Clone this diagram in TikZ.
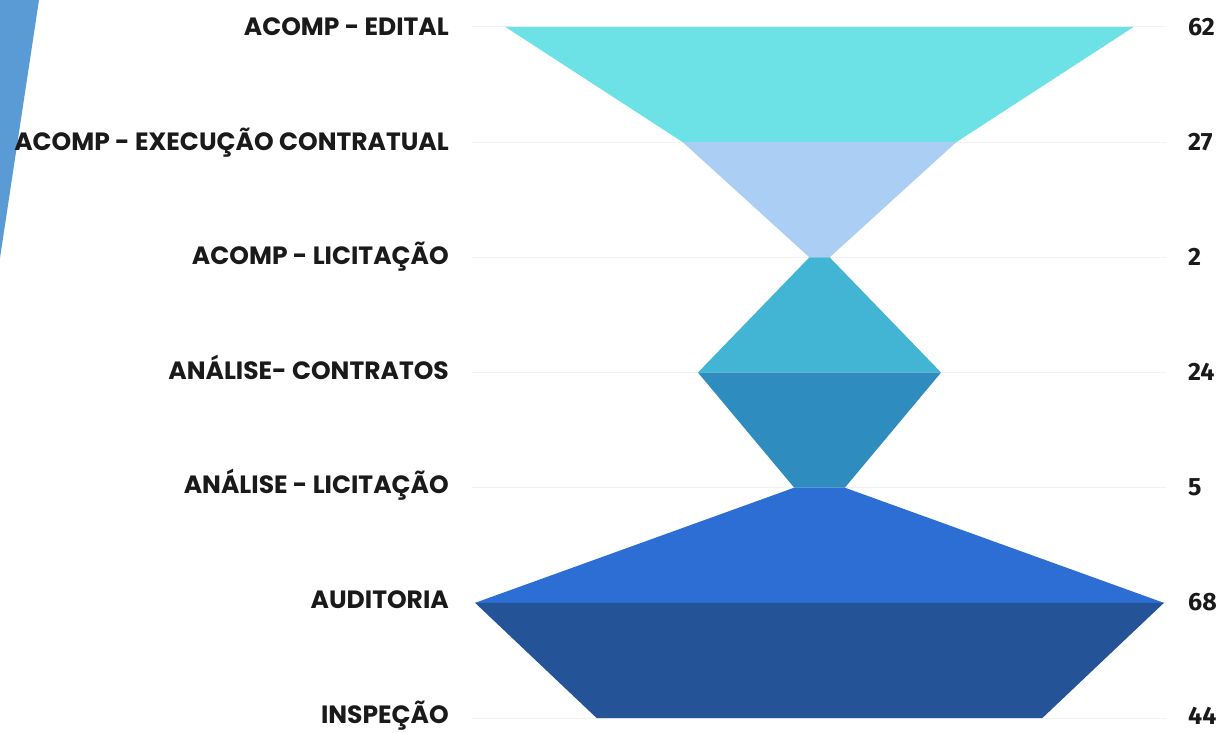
\documentclass[tikz,border=0pt]{standalone}
\usepackage{fontspec}
\newfontfamily\labfont{Poppins}
\newfontfamily\numfont{Fira Sans}
\definecolor{cA}{RGB}{108,226,230}
\definecolor{cB}{RGB}{171,207,244}
\definecolor{cC}{RGB}{66,180,212}
\definecolor{cD}{RGB}{46,140,190}
\definecolor{cE}{RGB}{44,110,212}
\definecolor{cF}{RGB}{36,83,152}
\definecolor{side}{RGB}{91,155,213}
\definecolor{txt}{RGB}{26,26,26}
\tikzset{
  lab/.style={anchor=base east, inner sep=0pt, text=txt, font=\labfont\bfseries\fontsize{25}{25}\selectfont},
  num/.style={anchor=base west, inner sep=0pt, text=txt, font=\numfont\bfseries\fontsize{25}{25}\selectfont},
  grid line/.style={draw=gray!10, line width=1pt}
}
\begin{document}
\begin{tikzpicture}[x=1pt,y=-1pt]
\useasboundingbox (0,0) rectangle (1223,733);
\fill[white] (0,0) rectangle (1223,733);
\fill[side] (0,0) -- (39,0) -- (0,258) -- cycle;
% row positions
\def\cx{819.5}
\def\s{5.065}
\def\dy{115.17}
\foreach \i/\v in {0/62,1/27,2/2,3/24,4/5,5/68,6/44}{
  \coordinate (L\i) at ({\cx-\v*\s},{27+\i*\dy});
  \coordinate (R\i) at ({\cx+\v*\s},{27+\i*\dy});
  \coordinate (T\i) at (449,{27+\i*\dy+8.7-\i*0.6});
  \coordinate (N\i) at (1188,{27+\i*\dy+8.7-\i*0.3});
  \draw[grid line] (472,{27+\i*\dy}) -- (1166,{27+\i*\dy});
}
\fill[cA] (L0) -- (R0) -- (R1) -- (L1) -- cycle;
\fill[cB] (L1) -- (R1) -- (R2) -- (L2) -- cycle;
\fill[cC] (L2) -- (R2) -- (R3) -- (L3) -- cycle;
\fill[cD] (L3) -- (R3) -- (R4) -- (L4) -- cycle;
\fill[cE] (L4) -- (R4) -- (R5) -- (L5) -- cycle;
\fill[cF] (L5) -- (R5) -- (R6) -- (L6) -- cycle;
% labels
\node[lab] (t0) at (T0) {ACOMP - EDITAL};
\node[lab] (t1) at (T1) {ACOMP - EXECUÇÃO CONTRATUAL};
\node[lab] (t2) at (T2) {ACOMP - LICITAÇÃO};
\node[lab] (t3) at (T3) {ANÁLISE- CONTRATOS};
\node[lab] (t4) at (T4) {ANÁLISE - LICITAÇÃO};
\node[lab] (t5) at (T5) {AUDITORIA};
\node[lab] (t6) at (T6) {INSPEÇÃO};
\node[num] (n0) at (N0) {62};
\node[num] (n1) at (N1) {27};
\node[num] (n2) at (N2) {2};
\node[num] (n3) at (N3) {24};
\node[num] (n4) at (N4) {5};
\node[num] (n5) at (N5) {68};
\node[num] (n6) at (N6) {44};
\end{tikzpicture}
\end{document}
